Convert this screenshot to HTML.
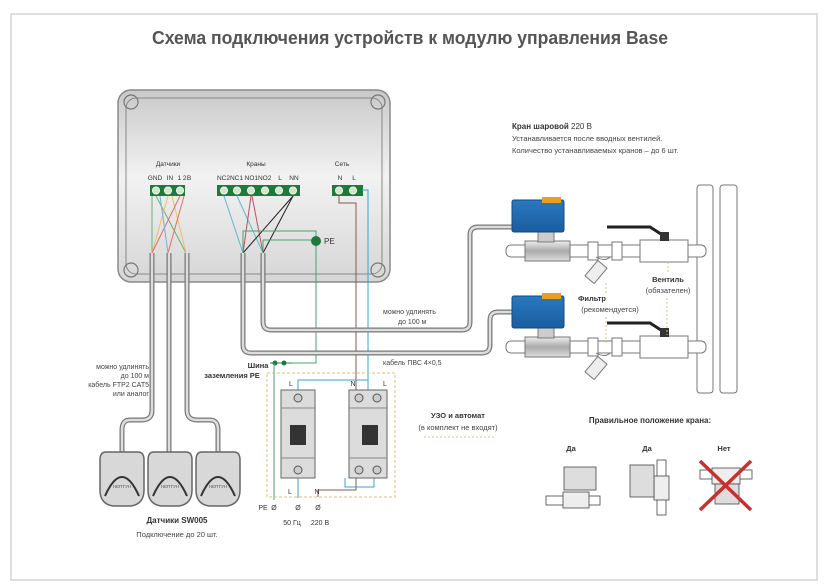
<!DOCTYPE html>
<html><head><meta charset="utf-8"><style>
html,body{margin:0;padding:0;background:#fff;}
svg{display:block;font-family:"Liberation Sans","Noto Sans CJK SC",sans-serif;}
</style></head><body>
<svg width="827" height="587" viewBox="0 0 827 587" xmlns="http://www.w3.org/2000/svg">
<defs>
<linearGradient id="box" x1="0" y1="0" x2="0" y2="1"><stop offset="0" stop-color="#c9c9c9"/><stop offset="0.45" stop-color="#f2f2f2"/><stop offset="1" stop-color="#d6d6d6"/></linearGradient>
<linearGradient id="blue" x1="0" y1="0" x2="0" y2="1"><stop offset="0" stop-color="#2a78c0"/><stop offset="1" stop-color="#1a5e9e"/></linearGradient>
<linearGradient id="met" x1="0" y1="0" x2="0" y2="1"><stop offset="0" stop-color="#eee"/><stop offset="0.5" stop-color="#aaa"/><stop offset="1" stop-color="#ddd"/></linearGradient>
</defs>
<rect x="11" y="14" width="806" height="566" fill="#fff" stroke="#d4d4d4" stroke-width="1.5"/>
<text x="410" y="44" text-anchor="middle" font-size="18" font-weight="bold" fill="#555" textLength="516" lengthAdjust="spacingAndGlyphs">Схема подключения устройств к модулю управления Base</text>

<!-- control box -->
<rect x="118" y="90" width="272" height="192" rx="13" fill="url(#box)" stroke="#8a8a8a" stroke-width="1.5"/>
<rect x="126" y="98" width="256" height="176" rx="10" fill="none" stroke="#888" stroke-width="1"/>
<g fill="none" stroke="#777" stroke-width="1.2"><circle cx="131" cy="102" r="7"/><circle cx="378" cy="102" r="7"/><circle cx="131" cy="270" r="7"/><circle cx="378" cy="270" r="7"/></g>
<g font-size="6.5" fill="#333" text-anchor="middle">
<text x="168" y="166">Датчики</text><text x="256" y="166">Краны</text><text x="342" y="166">Сеть</text>
<text x="155" y="180">GND</text><text x="170" y="180">IN</text><text x="182" y="180">1 2</text><text x="189" y="180">B</text>
<text x="230" y="180">NC2NC1</text><text x="258" y="180">NO1NO2</text><text x="280" y="180">L</text><text x="294" y="180">NN</text>
<text x="340" y="180">N</text><text x="354" y="180">L</text>
</g>
<rect x="150" y="185" width="35" height="11" fill="#1e7a3a"/>
<rect x="217" y="185" width="83" height="11" fill="#1e7a3a"/>
<rect x="332" y="185" width="31" height="11" fill="#1e7a3a"/>
<g fill="#cfe6c8" stroke="#fff" stroke-width="0.8">
<circle cx="156" cy="190.5" r="3.6"/><circle cx="168" cy="190.5" r="3.6"/><circle cx="180" cy="190.5" r="3.6"/>
<circle cx="224" cy="190.5" r="3.6"/><circle cx="237" cy="190.5" r="3.6"/><circle cx="251" cy="190.5" r="3.6"/><circle cx="265" cy="190.5" r="3.6"/><circle cx="279" cy="190.5" r="3.6"/><circle cx="293" cy="190.5" r="3.6"/>
<circle cx="339" cy="190.5" r="3.6"/><circle cx="353" cy="190.5" r="3.6"/>
</g>
<g stroke-width="1" fill="none">
<path d="M152 196 V253" stroke="#6ab07a"/><path d="M156 196 L186 253" stroke="#6ab07a"/>
<path d="M168 196 L152 253" stroke="#f0c060"/><path d="M172 196 L186 253" stroke="#f0c060"/>
<path d="M180 196 L152 253" stroke="#e07060"/><path d="M184 196 L168 253" stroke="#e07060"/>
<path d="M160 196 L168 253" stroke="#7ab0d0"/>
<path d="M224 196 L243 253" stroke="#5ab8d0"/><path d="M237 196 L263 253" stroke="#5ab8d0"/>
<path d="M251 196 L243 253" stroke="#c05060"/><path d="M252 196 L263 253" stroke="#c05060"/>
<path d="M293 196 L243 253" stroke="#222"/><path d="M293 196 L263 253" stroke="#222"/>
<path d="M243 253 V231 H316 V355 " stroke="#4aa070"/>
<path d="M263 253 V240 H316" stroke="#4aa070"/>
<path d="M339 196 V203 H356 V490 H318 V497" stroke="#8a5a4a"/>
<path d="M362 190 H368 V400" stroke="#3aa0d8"/>
</g>
<circle cx="316" cy="241" r="5" fill="#1e7a3a"/>
<text x="324" y="244" font-size="8" fill="#333">PE</text>

<g fill="none" stroke="#777" stroke-width="5" stroke-linejoin="round">
<path d="M152 253 V410 Q152 420 142 420 H130 Q122 420 122 430 V452"/>
<path d="M169 253 V452"/>
<path d="M187 253 V410 Q187 420 197 420 H210 Q218 420 218 430 V452"/>
<path d="M263 253 V322 Q263 330 271 330 H462 Q470 330 470 322 V235 Q470 227 478 227 H512"/>
<path d="M243 253 V345 Q243 353 251 353 H482 Q490 353 490 345 V320 Q490 312 498 312 H512"/>
</g>
<g fill="none" stroke="#ddd" stroke-width="2.5" stroke-linejoin="round">
<path d="M152 253 V410 Q152 420 142 420 H130 Q122 420 122 430 V452"/>
<path d="M169 253 V452"/>
<path d="M187 253 V410 Q187 420 197 420 H210 Q218 420 218 430 V452"/>
<path d="M263 253 V322 Q263 330 271 330 H462 Q470 330 470 322 V235 Q470 227 478 227 H512"/>
<path d="M243 253 V345 Q243 353 251 353 H482 Q490 353 490 345 V320 Q490 312 498 312 H512"/>
</g>
<g font-size="7" fill="#444">
<text x="383" y="314">можно удлинять</text><text x="398" y="324">до 100 м</text>
<text x="383" y="365">кабель ПВС 4×0,5</text>
<text x="149" y="369" text-anchor="end">можно удлинять</text><text x="149" y="378" text-anchor="end">до 100 м</text>
<text x="149" y="387" text-anchor="end">кабель FTP2 CAT5</text><text x="149" y="396" text-anchor="end">или аналог</text>
</g>
<g>
<g transform="translate(122,452)"><path d="M-16 0 H16 Q22 0 22 8 V38 Q22 52 9 54 H-9 Q-22 52 -22 38 V8 Q-22 0 -16 0Z" fill="#d8d8d8" stroke="#666" stroke-width="1.5"/><path d="M-17 44 Q0 6 17 44" fill="none" stroke="#333" stroke-width="2"/><text x="0" y="36" font-size="4.5" text-anchor="middle" fill="#555">НЕПТУН</text></g>
<g transform="translate(170,452)"><path d="M-16 0 H16 Q22 0 22 8 V38 Q22 52 9 54 H-9 Q-22 52 -22 38 V8 Q-22 0 -16 0Z" fill="#d8d8d8" stroke="#666" stroke-width="1.5"/><path d="M-17 44 Q0 6 17 44" fill="none" stroke="#333" stroke-width="2"/><text x="0" y="36" font-size="4.5" text-anchor="middle" fill="#555">НЕПТУН</text></g>
<g transform="translate(218,452)"><path d="M-16 0 H16 Q22 0 22 8 V38 Q22 52 9 54 H-9 Q-22 52 -22 38 V8 Q-22 0 -16 0Z" fill="#d8d8d8" stroke="#666" stroke-width="1.5"/><path d="M-17 44 Q0 6 17 44" fill="none" stroke="#333" stroke-width="2"/><text x="0" y="36" font-size="4.5" text-anchor="middle" fill="#555">НЕПТУН</text></g>
</g>
<text x="177" y="523" font-size="8" font-weight="bold" fill="#333" text-anchor="middle">Датчики SW005</text>
<text x="177" y="537" font-size="7.5" fill="#444" text-anchor="middle">Подключение до 20 шт.</text>

<text x="258" y="368" font-size="7.5" font-weight="bold" fill="#333" text-anchor="middle">Шина</text>
<text x="232" y="378" font-size="7.5" font-weight="bold" fill="#333" text-anchor="middle">заземления PE</text>
<line x1="270" y1="363" x2="292" y2="363" stroke="#4aa070" stroke-width="1.2"/>
<circle cx="275" cy="363" r="2.5" fill="#1e7a3a"/><circle cx="284" cy="363" r="2.5" fill="#1e7a3a"/>
<path d="M316 355 V363 H290" stroke="#4aa070" fill="none"/>
<path d="M274 363 V500" stroke="#4aa070" fill="none"/>
<rect x="267" y="373" width="128" height="124" fill="none" stroke="#d9c080" stroke-dasharray="3,2"/>
<path d="M298 390 V380 H368 V390" stroke="#3aa0d8" fill="none"/>
<path d="M356 390 V380" stroke="#8a5a4a" fill="none"/>
<path d="M298 478 V498" stroke="#3aa0d8" fill="none"/>
<path d="M374 478 V487 H345 V478" stroke="#3aa0d8" fill="none"/>
<g stroke="#666" fill="#dcdcdc">
<rect x="281" y="390" width="34" height="88"/>
<rect x="349" y="390" width="38" height="88"/>
</g>
<g fill="none" stroke="#888"><line x1="281" y1="408" x2="315" y2="408"/><line x1="281" y1="458" x2="315" y2="458"/><line x1="349" y1="408" x2="387" y2="408"/><line x1="349" y1="458" x2="387" y2="458"/></g>
<rect x="290" y="425" width="16" height="20" fill="#333"/><rect x="362" y="425" width="16" height="20" fill="#333"/>
<g fill="#ccc" stroke="#555"><circle cx="298" cy="398" r="4"/><circle cx="298" cy="470" r="4"/><circle cx="359" cy="398" r="4"/><circle cx="377" cy="398" r="4"/><circle cx="359" cy="470" r="4"/><circle cx="377" cy="470" r="4"/></g>
<g font-size="7" fill="#333" text-anchor="middle">
<text x="291" y="386">L</text><text x="353" y="386">N</text><text x="385" y="386">L</text>
<text x="290" y="494">L</text><text x="317" y="494">N</text>
<text x="263" y="510">PE</text><text x="274" y="510">Ø</text><text x="298" y="510">Ø</text><text x="318" y="510">Ø</text>
<text x="292" y="525">50 Гц</text><text x="320" y="525">220 В</text>
</g>
<text x="458" y="418" font-size="7.5" font-weight="bold" fill="#333" text-anchor="middle">УЗО и автомат</text>
<text x="458" y="430" font-size="7.5" fill="#444" text-anchor="middle">(в комплект не входят)</text>
<line x1="424" y1="437" x2="494" y2="437" stroke="#d9c080" stroke-dasharray="2,2"/>

<text x="512" y="129" font-size="8" fill="#333"><tspan font-weight="bold">Кран шаровой</tspan> 220 В</text>
<text x="512" y="141" font-size="7.5" fill="#444">Устанавливается после вводных вентилей.</text>
<text x="512" y="153" font-size="7.5" fill="#444">Количество устанавливаемых кранов – до 6 шт.</text>

<g fill="#fff" stroke="#777"><rect x="697" y="185" width="16" height="208" rx="3"/><rect x="720" y="185" width="17" height="208" rx="3"/></g>
<g id="row">
<rect x="506" y="245" width="200" height="12" rx="5" fill="#fff" stroke="#777"/>
<rect x="525" y="241" width="45" height="20" fill="url(#met)" stroke="#777"/>
<rect x="538" y="230" width="16" height="12" fill="#ccc" stroke="#777"/>
<rect x="512" y="200" width="52" height="32" rx="2" fill="url(#blue)" stroke="#134a80"/>
<rect x="542" y="197" width="19" height="6" fill="#e8a020"/>
<rect x="588" y="242" width="10" height="18" fill="#fff" stroke="#777"/>
<rect x="612" y="242" width="10" height="18" fill="#fff" stroke="#777"/>
<path d="M596 257 Q605 262 610 257" fill="none" stroke="#777"/>
<rect x="590" y="262" width="12" height="20" fill="#eee" stroke="#777" transform="rotate(40 596 272)"/>
<rect x="640" y="240" width="48" height="22" fill="#fff" stroke="#777"/>
<path d="M607 227 H650 L664 236" fill="none" stroke="#222" stroke-width="3"/>
<rect x="660" y="232" width="9" height="9" fill="#333"/>
</g>
<use href="#row" transform="translate(0,96)"/>
<g fill="none" stroke="#d9c080" stroke-dasharray="2,2"><line x1="606" y1="283" x2="606" y2="293"/><line x1="606" y1="317" x2="606" y2="345"/><line x1="668" y1="262" x2="668" y2="273"/><line x1="667" y1="298" x2="667" y2="335"/></g>
<text x="592" y="301" font-size="7.5" font-weight="bold" fill="#333" text-anchor="middle">Фильтр</text>
<text x="610" y="312" font-size="7.5" fill="#444" text-anchor="middle">(рекомендуется)</text>
<text x="668" y="282" font-size="7.5" font-weight="bold" fill="#333" text-anchor="middle">Вентиль</text>
<text x="668" y="293" font-size="7.5" fill="#444" text-anchor="middle">(обязателен)</text>

<text x="650" y="423" font-size="8" font-weight="bold" fill="#333" text-anchor="middle">Правильное положение крана:</text>
<g font-size="7.5" font-weight="bold" fill="#333" text-anchor="middle"><text x="571" y="451">Да</text><text x="647" y="451">Да</text><text x="724" y="451">Нет</text></g>
<g fill="#fff" stroke="#444" stroke-width="0.8">
<rect x="546" y="496" width="54" height="9"/><rect x="563" y="492" width="26" height="16" fill="#eee"/><rect x="564" y="467" width="32" height="23" fill="#ddd"/>
<rect x="657" y="460" width="9" height="55"/><rect x="654" y="476" width="15" height="24" fill="#eee"/><rect x="630" y="465" width="24" height="32" fill="#ddd"/>
<rect x="700" y="470" width="52" height="9"/><rect x="712" y="468" width="28" height="16" fill="#eee"/><rect x="715" y="484" width="24" height="20" fill="#ddd"/>
</g>
<g stroke="#c83030" stroke-width="3.5"><line x1="700" y1="461" x2="751" y2="510"/><line x1="751" y1="461" x2="700" y2="510"/></g>
</svg>
</body></html>
